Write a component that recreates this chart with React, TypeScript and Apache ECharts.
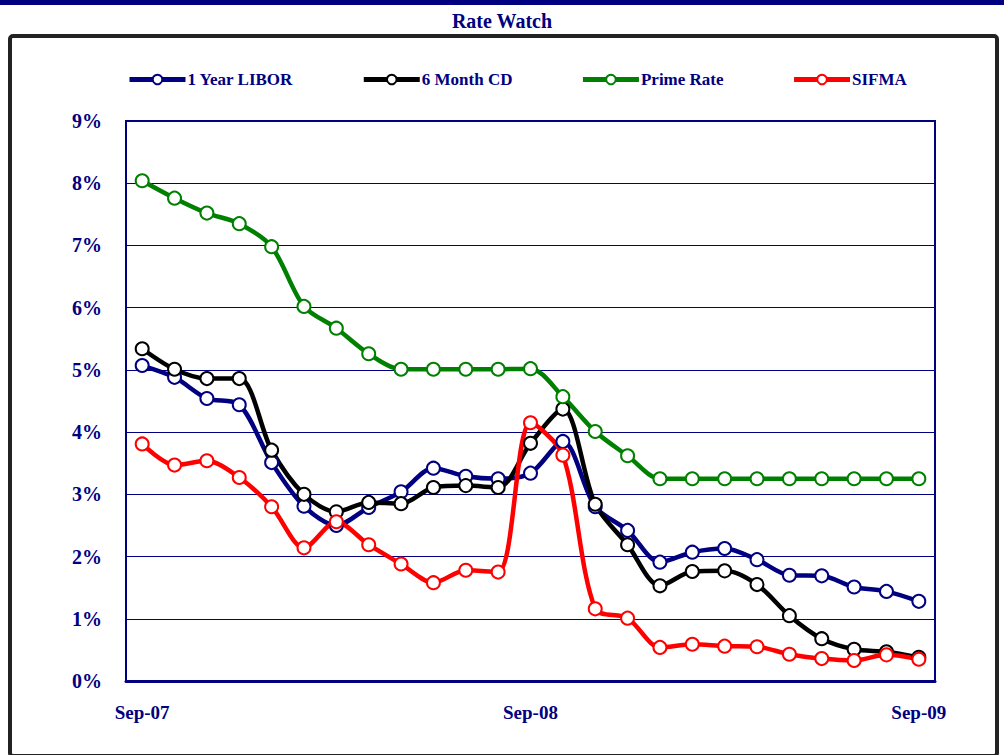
import React, { useEffect, useRef } from "react";
import * as echarts from "echarts";

const months = [
  "Sep-07", "Oct-07", "Nov-07", "Dec-07", "Jan-08", "Feb-08", "Mar-08", "Apr-08", "May-08",
  "Jun-08", "Jul-08", "Aug-08", "Sep-08", "Oct-08", "Nov-08", "Dec-08", "Jan-09", "Feb-09",
  "Mar-09", "Apr-09", "May-09", "Jun-09", "Jul-09", "Aug-09", "Sep-09",
];

const libor = [5.07, 4.88, 4.54, 4.44, 3.51, 2.81, 2.5, 2.79, 3.04, 3.42, 3.29, 3.25, 3.34, 3.85, 2.8, 2.42, 1.91, 2.07, 2.13, 1.95, 1.7, 1.69, 1.51, 1.44, 1.28];
const cd6m = [5.34, 5.01, 4.86, 4.86, 3.71, 3.0, 2.72, 2.87, 2.85, 3.11, 3.14, 3.11, 3.82, 4.37, 2.84, 2.19, 1.53, 1.76, 1.77, 1.55, 1.05, 0.68, 0.51, 0.47, 0.38];
const prime = [8.04, 7.76, 7.52, 7.35, 6.98, 6.02, 5.67, 5.26, 5.01, 5.01, 5.01, 5.01, 5.02, 4.57, 4.01, 3.62, 3.25, 3.25, 3.25, 3.25, 3.25, 3.25, 3.25, 3.25, 3.25];
const sifma = [3.81, 3.47, 3.54, 3.27, 2.8, 2.14, 2.56, 2.19, 1.88, 1.58, 1.78, 1.75, 4.15, 3.63, 1.16, 1.01, 0.54, 0.59, 0.56, 0.55, 0.43, 0.36, 0.33, 0.42, 0.35];

const seriesNames = ["1 Year LIBOR", "6 Month CD", "Prime Rate", "SIFMA"];
const seriesColors = ["#000080", "#000000", "#008000", "#FF0000"];
const seriesData = [libor, cd6m, prime, sifma];

const NAVY = "#000080";
const FONT = "'Liberation Serif', 'Times New Roman', serif";

export default function App() {
  const ref = useRef<HTMLDivElement>(null);

  useEffect(() => {
    if (!ref.current) return;
    const chart = echarts.init(ref.current, null, { renderer: "svg" });
    chart.setOption({
      animation: false,
      backgroundColor: "#ffffff",
      title: {
        text: "Rate Watch",
        left: "center",
        top: 6,
        textStyle: { color: NAVY, fontFamily: FONT, fontWeight: "bold", fontSize: 20 },
      },
      graphic: [
        { type: "rect", shape: { x: 0, y: 0, width: 1004, height: 5 }, style: { fill: NAVY }, z: 0 },
        {
          type: "rect",
          shape: { x: 10, y: 36, width: 987, height: 720, r: 3 },
          style: { fill: "none", stroke: "#222222", lineWidth: 4 },
          z: 0,
        },
      ],
      legend: {
        top: 71,
        left: 127,
        padding: 0,
        itemGap: 68,
        itemWidth: 56,
        itemHeight: 12,
        data: seriesNames,
        lineStyle: { width: 5 },
        textStyle: { color: NAVY, fontFamily: FONT, fontWeight: "bold", fontSize: 17, padding: [0, 0, 0, -3] },
      },
      grid: { left: 126, right: 69, top: 121, bottom: 74, show: true, borderColor: NAVY, borderWidth: 2 },
      xAxis: {
        type: "category",
        data: months,
        boundaryGap: true,
        axisLine: { show: true, lineStyle: { color: NAVY, width: 3 } },
        axisTick: { show: false },
        axisLabel: {
          interval: 11,
          color: NAVY,
          fontFamily: FONT,
          fontWeight: "bold",
          fontSize: 19,
          margin: 22,
        },
        splitLine: { show: false },
      },
      yAxis: {
        type: "value",
        min: 0,
        max: 9,
        interval: 1,
        axisLine: { show: true, lineStyle: { color: NAVY, width: 2 } },
        axisTick: { show: false },
        axisLabel: {
          formatter: (v: number) => `${v}%`,
          color: NAVY,
          fontFamily: FONT,
          fontWeight: "bold",
          fontSize: 20,
          margin: 24,
        },
        splitLine: { show: true, lineStyle: { color: NAVY, width: 1 } },
      },
      series: seriesNames.map((name, i) => ({
        name,
        type: "line",
        data: seriesData[i],
        smooth: 0.3,
        symbol: "circle",
        symbolSize: 13,
        showAllSymbol: true,
        color: seriesColors[i],
        lineStyle: { color: seriesColors[i], width: 4.5 },
        itemStyle: { color: "#ffffff", borderColor: seriesColors[i], borderWidth: 2 },
        emphasis: { disabled: true },
      })),
    });
    return () => chart.dispose();
  }, []);

  return (
    <div style={{ position: "fixed", left: 0, top: 0, width: 1004, height: 755, background: "#fff" }}>
      <div ref={ref} style={{ width: 1004, height: 755 }} />
    </div>
  );
}
